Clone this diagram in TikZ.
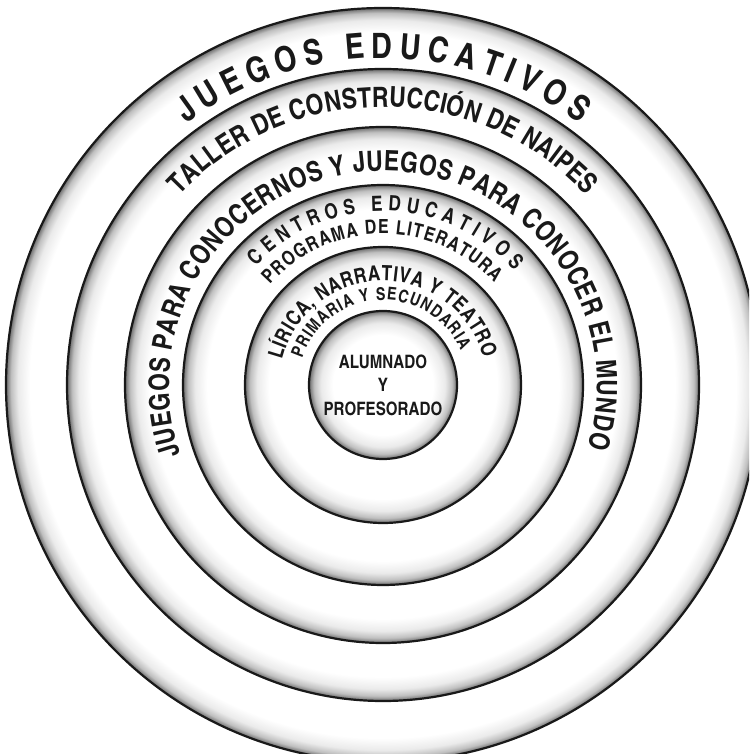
\documentclass[tikz,border=0pt]{standalone}
\usepackage{fontspec}
\setmainfont{Liberation Sans}
\newfontfamily\condfont{texgyreheroscn-bold.otf}
\usetikzlibrary{decorations.text}

% glow on the inside edge of each ring, #2 = radius in pt
\newcommand{\ringshade}[2]{%
  \pgfmathsetmacro{\shA}{25*(#2-24)/#2}%
  \pgfmathsetmacro{\shB}{25*(#2-12)/#2}%
  \pgfmathsetmacro{\shC}{25*(#2-5)/#2}%
  \edef\shdecl{\noexpand\pgfdeclareradialshading{#1}{\noexpand\pgfpoint{0bp}{0bp}}{color(0bp)=(white); color(\shA bp)=(white); color(\shB bp)=(black!8); color(\shC bp)=(black!25); color(25bp)=(black!58); color(50bp)=(black!58)}}%
  \shdecl}
\ringshade{glowA}{74}
\ringshade{glowB}{138}
\ringshade{glowC}{200}
\ringshade{glowD}{258}
\ringshade{glowE}{316}
\ringshade{glowF}{377}

\newcommand{\ringA}{\condfont\fontsize{35}{35}\selectfont}
\newcommand{\ringB}{\condfont\fontsize{28}{28}\selectfont}
\newcommand{\ringC}{\condfont\fontsize{21}{21}\selectfont}
\newcommand{\ringD}{\condfont\fontsize{19.5}{19.5}\selectfont}
\newcommand{\ringE}{\condfont\fontsize{17.5}{17.5}\selectfont}

\tikzset{
  ring/.style={circle, draw=black!90, line width=2.2pt, inner sep=0pt, shade},
  ringtext/.style={decorate, decoration={text along path, text align=fit to path, text color=black!90}}
}

\begin{document}
\begin{tikzpicture}[x=1pt, y=1pt]
  \useasboundingbox (-383,-369) rectangle (366,385);
  \clip (-383,-369) rectangle (366,385);
  % rings, from the outside in
  \draw (0,0) node (R6) [ring, shading=glowF, minimum size=754pt] {};
  \draw (R6.center) node (R5) [ring, shading=glowE, minimum size=632pt] {};
  \draw (R6.center) node (R4) [ring, shading=glowD, minimum size=516pt] {};
  \draw (R6.center) node (R3) [ring, shading=glowC, minimum size=400pt] {};
  \draw (R6.center) node (R2) [ring, shading=glowB, minimum size=276pt] {};
  \draw (R6.center) node (R1) [ring, shading=glowA, minimum size=148pt, align=center, text=black!90, font=\condfont\fontsize{18.5}{23.5}\selectfont] {ALUMNADO\\Y\\PROFESORADO};
  % texts along the rings
  \path[ringtext, decoration={text={|\ringA|JUEGOS EDUCATIVOS}}] (127:327pt) arc[start angle=127, end angle=53, radius=327pt];
  \path[ringtext, decoration={text={|\ringB|TALLER DE CONSTRUCCIÓN DE NAIPES}}] (137:278pt) arc[start angle=137, end angle=43, radius=278pt];
  \path[ringtext, decoration={text={|\ringB|JUEGOS PARA CONOCERNOS Y JUEGOS PARA CONOCER EL MUNDO}}] (199:214pt) arc[start angle=199, end angle=-17, radius=214pt];
  \path[ringtext, decoration={text={|\ringC|CENTROS EDUCATIVOS}}] (137:174pt) arc[start angle=137, end angle=41, radius=174pt];
  \path[ringtext, decoration={text={|\ringD|PROGRAMA DE LITERATURA}}] (138.5:151pt) arc[start angle=138.5, end angle=42.5, radius=151pt];
  \path[ringtext, decoration={text={|\ringC|LÍRICA, NARRATIVA Y TEATRO}}] (166:104pt) arc[start angle=166, end angle=15, radius=104pt];
  \path[ringtext, decoration={text={|\ringE|PRIMARIA Y SECUNDARIA}}] (162:85pt) arc[start angle=162, end angle=24, radius=85pt];
\end{tikzpicture}
\end{document}
